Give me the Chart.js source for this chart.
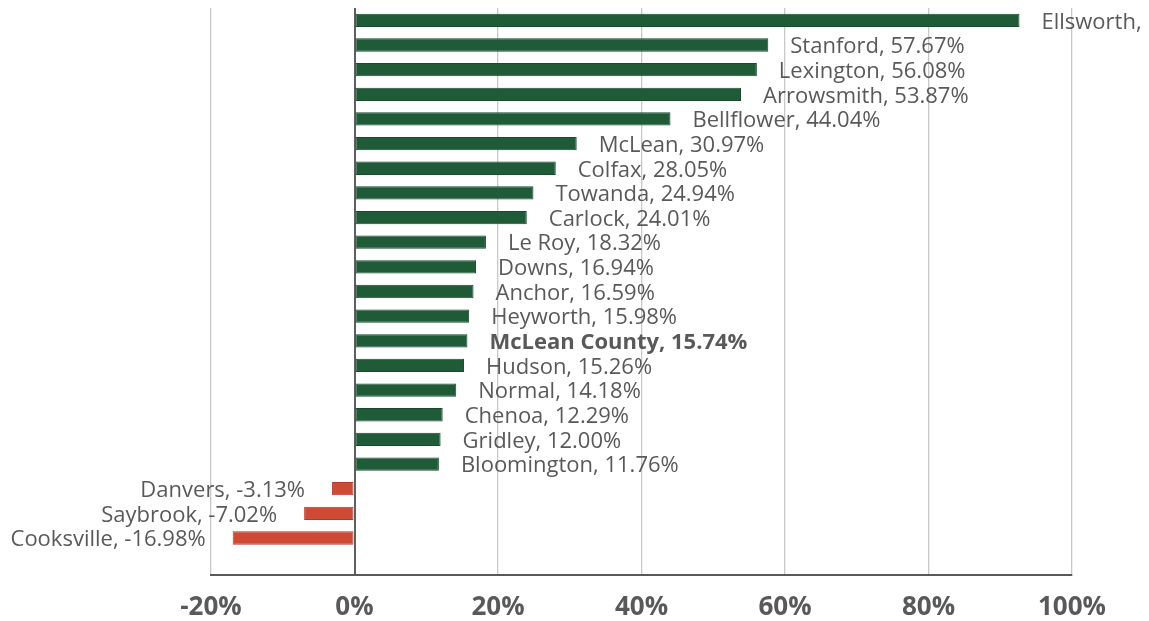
<!DOCTYPE html>
<html>
<head>
<meta charset="utf-8">
<script src="https://cdn.jsdelivr.net/npm/chart.js@4.4.1/dist/chart.umd.min.js"></script>
<style>
  html, body { margin: 0; padding: 0; background: #fff; }
  #wrap { width: 1149px; height: 621px; }
</style>
</head>
<body>
<div id="wrap"><canvas id="chart" width="1149" height="621"></canvas></div>
<script>
// places, growth in percent (last row is an empty slot, as in the original)
const places = ['Ellsworth', 'Stanford', 'Lexington', 'Arrowsmith', 'Bellflower', 'McLean',
    'Colfax', 'Towanda', 'Carlock', 'Le Roy', 'Downs', 'Anchor', 'Heyworth', 'McLean County',
    'Hudson', 'Normal', 'Chenoa', 'Gridley', 'Bloomington', 'Danvers', 'Saybrook', 'Cooksville', ''];
const growth = [92.68, 57.67, 56.08, 53.87, 44.04, 30.97, 28.05, 24.94, 24.01, 18.32, 16.94,
    16.59, 15.98, 15.74, 15.26, 14.18, 12.29, 12.00, 11.76, -3.13, -7.02, -16.98, null];
const xTicks = [-20, 0, 20, 40, 60, 80, 100];
const boldPlace = 'McLean County';

const fontFam = "'Open Sans', 'Noto Sans', sans-serif";
const grey = '#595959';

// labels "Name, 12.34%" next to bar ends
const barLabels = {
    id: 'barLabels',
    afterDatasetsDraw(chart) {
        let ctx = chart.ctx;
        let meta = chart.getDatasetMeta(0);
        ctx.save();
        ctx.fillStyle = grey;
        ctx.textBaseline = 'middle';
        meta.data.forEach((bar, i) => {
            let v = growth[i];
            if (v === null) return;
            let txt = places[i] + ', ' + v.toFixed(2) + '%';
            ctx.font = (places[i] === boldPlace ? 'bold ' : '') + '22px ' + fontFam;
            if (v >= 0) {
                let x = bar.x + 22;
                // label that runs off the canvas keeps only the name (like the original)
                if (x + ctx.measureText(txt).width > chart.width) txt = places[i] + ',';
                ctx.textAlign = 'left';
                ctx.fillText(txt, x, bar.y + 2);
            } else {
                ctx.textAlign = 'right';
                ctx.fillText(txt, bar.x - 27, bar.y + 2);
            }
        });
        ctx.restore();
    }
};

var chart = new Chart(document.getElementById('chart'), {
    type: 'bar',
    data: {
        labels: places,
        datasets: [{
            data: growth,
            backgroundColor: growth.map(v => v < 0 ? '#cf4a35' : '#1f5b37'),
            borderColor: growth.map(v => v < 0 ? '#b03a28' : '#184a2d'),
            borderWidth: 1,
            borderSkipped: false,
            categoryPercentage: 1,
            barPercentage: 0.54,
        }],
    },
    options: {
        indexAxis: 'y',
        responsive: false,
        animation: false,
        layout: { padding: { left: 211, right: 77, top: 8, bottom: 0 } },
        scales: {
            x: {
                min: -20,
                max: 100,
                afterBuildTicks: (axis) => { axis.ticks = xTicks.map(v => ({ value: v })); },
                afterFit: (axis) => { axis.height = 46; },
                grid: {
                    color: (c) => c.tick && c.tick.value === 0 ? '#5f5f5f' : '#c8c8c8',
                    lineWidth: (c) => c.tick && c.tick.value === 0 ? 2 : 1.3,
                    drawTicks: false,
                },
                border: { color: grey, width: 2 },
                ticks: {
                    padding: 17,
                    color: grey,
                    font: { family: fontFam, size: 26, weight: 'bold' },
                    callback: (v) => v + '%',
                },
            },
            y: { display: false },
        },
        plugins: {
            legend: { display: false },
            tooltip: { enabled: false },
        },
    },
    plugins: [barLabels],
});
</script>
</body>
</html>
